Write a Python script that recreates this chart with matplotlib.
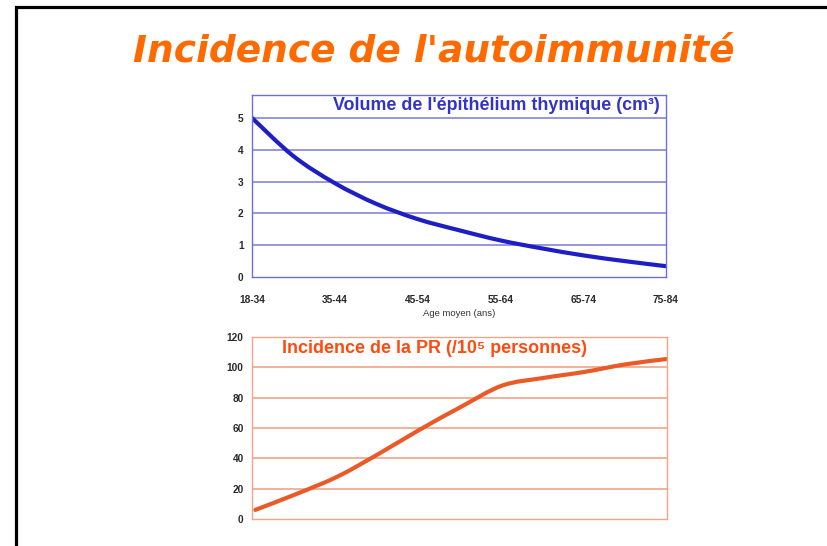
import matplotlib
matplotlib.use("Agg")
import matplotlib.pyplot as plt
from matplotlib.patches import Rectangle, PathPatch
from matplotlib.path import Path

# Age groups and values read at half-step positions along each curve
age_groups = ["18-34", "35-44", "45-54", "55-64", "65-74", "75-84"]
positions = [0, 0.5, 1, 1.5, 2, 2.5, 3, 3.5, 4, 4.5, 5]
thymus_volume = [5.0, 3.8, 2.95, 2.3, 1.82, 1.47, 1.15, 0.9, 0.68, 0.5, 0.34]
pr_incidence = [6, 16.5, 28, 43, 59, 74, 88, 93, 97, 102, 105.5]


def smooth_path(xs, ys):
    # Catmull-Rom segments written as cubic Bezier curves through every point
    verts = [(xs[0], ys[0])]
    codes = [Path.MOVETO]
    n = len(xs)
    for i in range(n - 1):
        x0, y0 = xs[max(i - 1, 0)], ys[max(i - 1, 0)]
        x1, y1 = xs[i], ys[i]
        x2, y2 = xs[i + 1], ys[i + 1]
        x3, y3 = xs[min(i + 2, n - 1)], ys[min(i + 2, n - 1)]
        c1 = (x1 + (x2 - x0) / 6, y1 + (y2 - y0) / 6)
        c2 = (x2 - (x3 - x1) / 6, y2 - (y3 - y1) / 6)
        verts += [c1, c2, (x2, y2)]
        codes += [Path.CURVE4] * 3
    return Path(verts, codes)


W, H = 827, 546
fig = plt.figure(figsize=(W / 100, H / 100), dpi=100)
fig.patch.set_facecolor("white")

# slide frame, only left and top edges visible
fig.add_artist(Rectangle((16 / W, -0.2), 2, 1.2 - 7 / H, transform=fig.transFigure,
                         fill=False, edgecolor="black", linewidth=2.3))

fig.text(434 / W, 1 - 51 / H, "Incidence de l'autoimmunité",
         ha="center", va="center", color="#ff6a00", fontsize=27,
         fontweight="bold", fontstyle="italic", family="DejaVu Sans")

tick_font = dict(family="Liberation Sans", fontsize=7.3, fontweight="bold")

# thymic epithelium volume
ax1 = fig.add_axes([252 / W, 1 - 277 / H, 414 / W, 182 / H])
ax1.add_patch(PathPatch(smooth_path(positions, thymus_volume), fill=False,
                        edgecolor="#1e1ec4", lw=3, capstyle="round"))
ax1.set_xlim(0, 5)
ax1.set_ylim(0, 5.72)
for v in [1, 2, 3, 4, 5]:
    ax1.axhline(v, color="#8585dd", lw=1.2, zorder=0)
ax1.set_yticks(range(6))
ax1.set_xticks(range(6))
ax1.set_xticklabels(age_groups)
ax1.tick_params(length=0, colors="#2a2a2a")
ax1.tick_params(axis="y", pad=6)
ax1.tick_params(axis="x", pad=13)
for lab in ax1.get_xticklabels() + ax1.get_yticklabels():
    lab.set(**tick_font)
for s in ax1.spines.values():
    s.set_color("#6c6cf2")
    s.set_linewidth(1.0)
ax1.set_xlabel("Age moyen (ans)", family="Liberation Sans", fontsize=6.8,
               color="#333333", labelpad=3)
ax1.text(0.986, 0.941, "Volume de l'épithélium thymique (cm³)", transform=ax1.transAxes,
         ha="right", va="center", color="#3333c4", fontsize=12.9, fontweight="bold",
         family=["Liberation Sans", "DejaVu Sans"])

# rheumatoid arthritis incidence
ax2 = fig.add_axes([252 / W, 1 - 519 / H, 415 / W, 182 / H])
ax2.add_patch(PathPatch(smooth_path(positions, pr_incidence), fill=False,
                        edgecolor="#ea5a28", lw=3, capstyle="round"))
ax2.set_xlim(-0.04, 5)
ax2.set_ylim(0, 120)
for v in [20, 40, 60, 80, 100]:
    ax2.axhline(v, color="#f0a488", lw=1.2, zorder=0)
ax2.set_yticks(range(0, 121, 20))
ax2.set_xticks([])
ax2.tick_params(length=0, colors="#2a2a2a", pad=6)
for lab in ax2.get_yticklabels():
    lab.set(**tick_font)
for s in ax2.spines.values():
    s.set_color("#f6a487")
    s.set_linewidth(1.0)
ax2.text(0.072, 0.938, "Incidence de la PR (/10⁵ personnes)", transform=ax2.transAxes,
         ha="left", va="center", color="#ff4a10", fontsize=12.9, fontweight="bold",
         family=["Liberation Sans", "DejaVu Sans"])

fig.savefig("out.png", dpi=100)
